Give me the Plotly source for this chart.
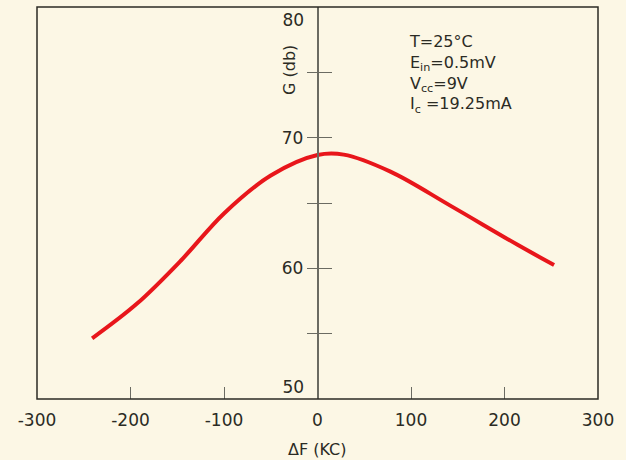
import plotly.graph_objects as go

# Data
delta_f = [-241, -193, -146, -100, -50, 0, 28, 78, 142, 214, 253]
gain_db = [54.64, 57.3, 60.6, 64.2, 67.1, 68.67, 68.7, 67.4, 64.8, 61.8, 60.25]

x_tickvals = [-300, -200, -100, 0, 100, 200, 300]
x_ticktext = ["-300", "-200", "-100", "0", "100", "200", "300"]
y_minor = [55, 60, 65, 70, 75]
y_minor_text = ["", "60", "", "70", ""]
y_edge_vals = [79.0, 50.9]
y_edge_text = ["80", "50"]

conditions = "T=25°C<br>E<sub>in</sub>=0.5mV<br>V<sub>cc</sub>=9V<br>I<sub>c</sub> =19.25mA"

BG = "#fcf7e5"
INK = "#2b2b24"
AX = "#6b6b62"
FONT = "DejaVu Sans"

fig = go.Figure()
fig.add_trace(go.Scatter(
    x=delta_f, y=gain_db, mode="lines",
    line=dict(color="#e8161b", width=4, shape="spline", smoothing=1.0),
    showlegend=False, hoverinfo="skip",
))

fig.update_layout(
    width=626, height=460,
    margin=dict(l=37, r=28, t=7, b=61, autoexpand=False),
    paper_bgcolor=BG, plot_bgcolor=BG,
    font=dict(family=FONT, color=INK, size=17),
    xaxis=dict(
        range=[-300, 300], tickvals=x_tickvals, ticktext=x_ticktext,
        ticks="inside", ticklen=12, tickcolor=AX, tickwidth=1.2,
        showgrid=False, zeroline=False, showline=False, automargin=False,
        ticklabelstandoff=9,
        tickfont=dict(size=17, family=FONT, color=INK),
    ),
    yaxis=dict(
        range=[50, 80], anchor="free", position=0.5, side="left", automargin=False,
        showline=True, linecolor=AX, linewidth=1.5,
        tickvals=y_minor, ticktext=y_minor_text,
        ticks="outside", ticklen=10, tickcolor=AX, tickwidth=1.2,
        showgrid=False, zeroline=False,
        tickfont=dict(size=17, family=FONT, color=INK),
    ),
    yaxis2=dict(
        range=[50, 80], overlaying="y", anchor="free", position=0.5, side="left", automargin=False,
        showline=False, tickvals=y_minor, ticktext=["", "", "", "", ""],
        ticks="inside", ticklen=13, tickcolor=AX, tickwidth=1.2,
        showgrid=False, zeroline=False,
    ),
    yaxis3=dict(
        range=[50, 80], overlaying="y", anchor="free", position=0.5, side="left", automargin=False,
        showline=False, tickvals=y_edge_vals, ticktext=y_edge_text,
        ticks="outside", ticklen=10, tickcolor="rgba(0,0,0,0)",
        showgrid=False, zeroline=False,
        tickfont=dict(size=17, family=FONT, color=INK),
    ),
    shapes=[dict(type="rect", xref="paper", yref="paper", x0=0, x1=1, y0=0, y1=1,
                 line=dict(color=INK, width=1.5), layer="above")],
    annotations=[
        dict(text=conditions, xref="paper", yref="paper", x=0.66, y=0.942,
             xanchor="left", yanchor="top", align="left", showarrow=False,
             font=dict(size=16, family=FONT, color=INK)),
        dict(text="G (db)", xref="paper", yref="paper", x=0.449, y=0.839,
             xanchor="center", yanchor="middle", textangle=-90, showarrow=False,
             font=dict(size=16, family=FONT, color=INK)),
        dict(text="ΔF (KC)", xref="paper", yref="paper", x=0.5, y=0, yshift=-50,
             xanchor="center", yanchor="middle", showarrow=False,
             font=dict(size=16, family=FONT, color=INK)),
    ],
)
# invisible traces to activate overlay axes
fig.add_trace(go.Scatter(x=[None], y=[None], yaxis="y2", showlegend=False, hoverinfo="skip"))
fig.add_trace(go.Scatter(x=[None], y=[None], yaxis="y3", showlegend=False, hoverinfo="skip"))

fig.write_html(
    "out.html",
    config={"displayModeBar": False},
    post_script="document.body.style.margin='0';document.body.style.background='" + BG + "';",
)
